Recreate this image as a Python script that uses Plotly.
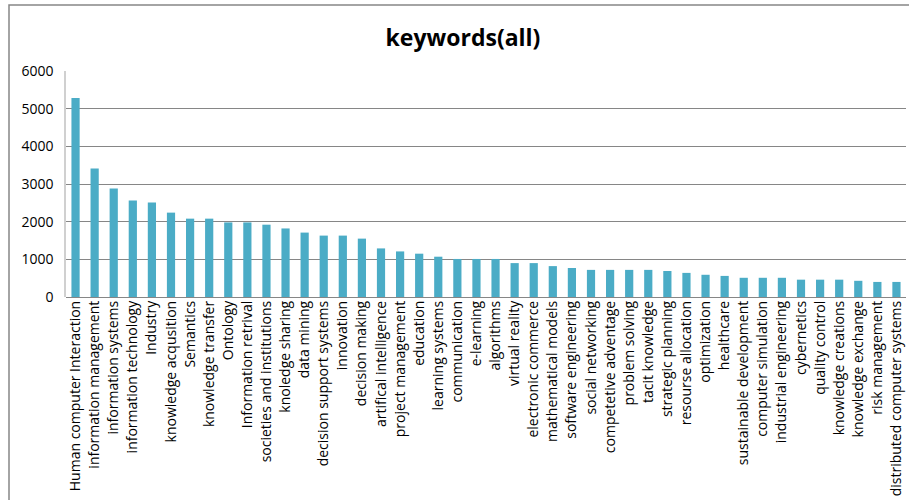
import plotly.graph_objects as go

keywords = [
    "Human computer Interaction", "information management", "information systems",
    "information technology", "Industry", "knowledge acqusition", "Semantics",
    "knowledge transfer", "Ontology", "Information retrival", "societies and institutions",
    "knoledge sharing", "data mining", "decision support systems", "innovation",
    "decision making", "artifical intelligence", "project management", "education",
    "learning systems", "communication", "e-learning", "algorithms", "virtual reality",
    "electronic commerce", "mathematical models", "software engineering",
    "social networking", "competetive adventage", "problem solving", "tacit knowledge",
    "strategic planning", "resourse allocation", "optimization", "healthcare",
    "sustainable development", "computer simulation", "industrial engineering",
    "cybernetics", "quality control", "knowledge creations", "knowledge exchange",
    "risk management", "distributed computer systems",
]
counts = [
    5280, 3410, 2880, 2560, 2510, 2240, 2080, 2080, 1980, 1980, 1920,
    1820, 1710, 1630, 1630, 1550, 1290, 1210, 1150, 1070, 1010, 1010,
    1010, 900, 900, 820, 770, 720, 720, 720, 720, 690, 640, 590, 560,
    510, 510, 510, 460, 460, 460, 430, 400, 400,
]
y_ticks = [0, 1000, 2000, 3000, 4000, 5000, 6000]

W, H = 909, 500
L, R, T, B = 66, 3, 71, 203
pw, ph = W - L - R, H - T - B

fig = go.Figure(go.Bar(
    x=keywords, y=counts,
    marker=dict(color="#4BACC6", line=dict(width=0)),
))

fig.update_layout(
    width=W, height=H,
    margin=dict(l=L, r=R, t=T, b=B, autoexpand=False),
    paper_bgcolor="white", plot_bgcolor="white",
    bargap=0.57,
    showlegend=False,
    font=dict(family="Open Sans", color="#000000"),
    title=dict(text="<b>keywords(all)</b>", x=463 / W, xanchor="center",
               y=1 - 38 / H, yanchor="middle", xref="container", yref="container",
               font=dict(family="Open Sans", size=23, color="#000000")),
)
fig.update_xaxes(
    tickangle=-90, tickfont=dict(size=14, family="Open Sans", color="#000000"),
    showgrid=False, showline=False, ticks="", automargin=False,
)
fig.update_yaxes(
    range=[0, 6000], tickvals=y_ticks, ticktext=[str(v) for v in y_ticks],
    tickfont=dict(size=14, family="Open Sans", color="#000000"),
    showgrid=True, gridcolor="#868686", gridwidth=1,
    zeroline=True, zerolinecolor="#868686", zerolinewidth=1,
    showline=True, linecolor="#D0D0D0", linewidth=1.5,
    ticklabelstandoff=8, automargin=False,
)
# chart frame
fig.add_shape(type="rect", xref="paper", yref="paper",
              x0=(9 - L) / pw, x1=(W + 20 - L) / pw,
              y0=-(H + 20 - (H - B)) / ph, y1=(H - B - 5) / ph,
              line=dict(color="#868686", width=1.5), fillcolor="rgba(0,0,0,0)",
              layer="below")

fig.write_html("out.html", config={"displayModeBar": False},
               post_script="document.body.style.margin='0px';document.body.style.overflow='hidden';")
